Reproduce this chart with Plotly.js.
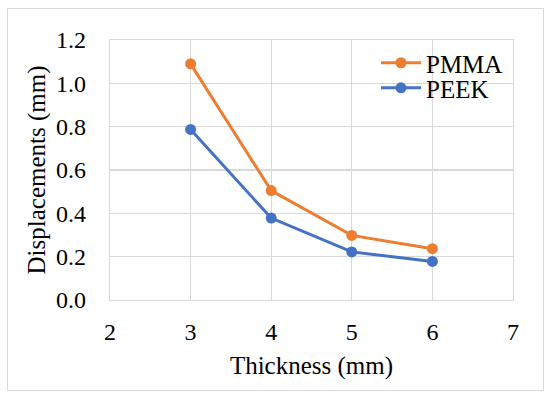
<!DOCTYPE html>
<html><head><meta charset="utf-8">
<script src="https://cdn.plot.ly/plotly-3.0.1.min.js"></script>
<style>html,body{margin:0;padding:0;background:#fff}#frame{position:absolute;left:7px;top:8px;width:535px;height:381px;border:1px solid #d9d9d9;pointer-events:none;z-index:10}</style>
</head><body>
<div id="chart" style="width:550px;height:397px"></div>
<div id="frame"></div>
<script>
const thickness = [3, 4, 5, 6];
const pmma = [1.09, 0.505, 0.298, 0.237];
const peek = [0.787, 0.378, 0.222, 0.178];
const xTicks = [2, 3, 4, 5, 6, 7];
const yTicks = [0, 0.2, 0.4, 0.6, 0.8, 1.0, 1.2];
const FAM = 'Liberation Serif';
const mk = (s) => ({family: FAM, size: s, color: '#000'});
const traces = [
  {x: thickness, y: pmma, name: 'PMMA', legend: 'legend', mode: 'lines+markers', line: {color: '#ED7D31', width: 3}, marker: {color: '#ED7D31', size: 11}},
  {x: thickness, y: peek, name: 'PEEK', legend: 'legend2', mode: 'lines+markers', line: {color: '#4472C4', width: 3}, marker: {color: '#4472C4', size: 11}}
];
const layout = {
  width: 550, height: 397,
  margin: {l: 110, r: 37, t: 40, b: 97},
  paper_bgcolor: '#fff', plot_bgcolor: '#fff',
  font: mk(24),
  showlegend: true,
  legend: {x: 0.66, y: 0.9115, xanchor: 'left', yanchor: 'middle', bgcolor: 'rgba(0,0,0,0)', font: mk(25), itemwidth: 40},
  legend2: {x: 0.66, y: 0.815, xanchor: 'left', yanchor: 'middle', bgcolor: 'rgba(0,0,0,0)', font: mk(25), itemwidth: 40},
  shapes: [{type: 'rect', xref: 'paper', yref: 'paper', x0: 0.640, x1: 0.985, y0: 0.769, y1: 0.969,
    fillcolor: '#fff', line: {width: 0}, layer: 'between'}],
  xaxis: {range: [2, 7], tickvals: xTicks, ticktext: xTicks.map(String), showgrid: true, gridcolor: '#d9d9d9', gridwidth: 1.3,
    zeroline: false, showline: true, linecolor: '#d9d9d9', linewidth: 1.3, mirror: true,
    ticks: 'outside', ticklen: 10, tickcolor: 'rgba(0,0,0,0)', tickfont: mk(24),
    title: {text: 'Thickness (mm)', font: mk(25), standoff: 12}},
  yaxis: {range: [0, 1.2], tickvals: yTicks, ticktext: yTicks.map(v => v.toFixed(1)), showgrid: true, gridcolor: '#d9d9d9', gridwidth: 1.3,
    zeroline: false, showline: true, linecolor: '#d9d9d9', linewidth: 1.3, mirror: true,
    ticks: 'outside', ticklen: 18, tickcolor: 'rgba(0,0,0,0)', tickfont: mk(24),
    title: {text: 'Displacements (mm)', font: mk(25), standoff: 3}}
};
Plotly.newPlot('chart', traces, layout, {displayModeBar: false, staticPlot: true});
</script>
</body></html>
